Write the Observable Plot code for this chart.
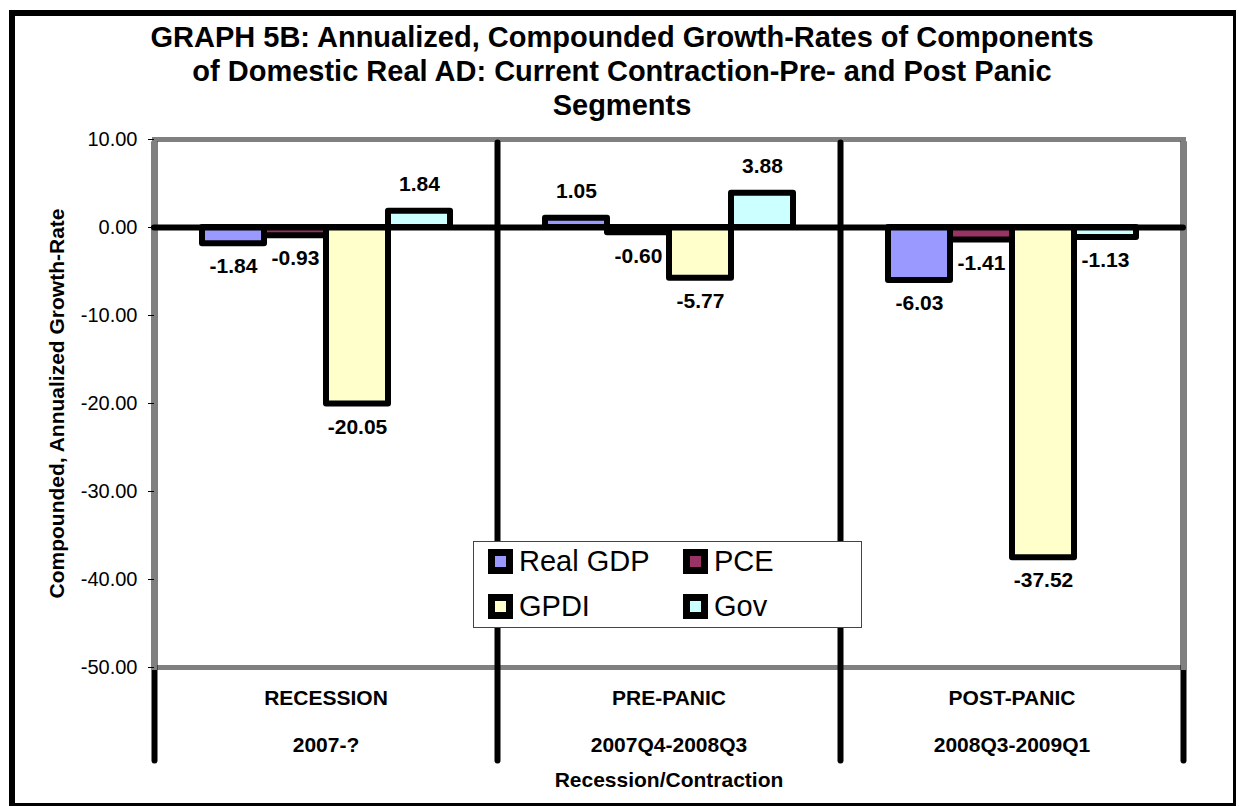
<!DOCTYPE html>
<html>
<head>
<meta charset="utf-8">
<script src="https://cdn.jsdelivr.net/npm/d3@7"></script>
<script src="https://cdn.jsdelivr.net/npm/@observablehq/plot@0.6"></script>
<style>
  html, body { margin: 0; padding: 0; background: #fff; }
  #chart { position: relative; width: 1239px; height: 806px; overflow: hidden;
           font-family: Arial, "Liberation Sans", sans-serif; background: #fff; }
  #chart svg { position: absolute; left: 0; top: 0; }
  #border { position: absolute; left: 9px; top: 10px; width: 1227px; height: 796px;
            box-sizing: border-box; border-style: solid; border-color: #000;
            border-width: 6px 3px 3px 6px; pointer-events: none; }
  #title { position: absolute; left: 0; top: 20px; width: 1244px; text-align: center;
           font-weight: bold; font-size: 29px; line-height: 34px; color: #000; }
  #legend { position: absolute; left: 473px; top: 541px; width: 389px; height: 87px;
            box-sizing: border-box; border: 1.5px solid #444; background: #fff; }
  .item { position: absolute; height: 26px; display: flex; align-items: center; gap: 6px;
          font-size: 29px; line-height: 26px; color: #000; white-space: nowrap; }
  .swatch { width: 25px; height: 25px; box-sizing: border-box; border: 7px solid #000; }
</style>
</head>
<body>
<div id="chart">
  <div id="title">GRAPH 5B: Annualized, Compounded Growth-Rates of Components<br>of Domestic Real AD: Current Contraction-Pre- and Post Panic<br>Segments</div>
</div>
<script>
// Contraction segments and their date spans
const categories = ["RECESSION", "PRE-PANIC", "POST-PANIC"];
const periods = ["2007-?", "2007Q4-2008Q3", "2008Q3-2009Q1"];

// Components of domestic real aggregate demand
const series = ["Real GDP", "PCE", "GPDI", "Gov"];
const colors = ["#9999FF", "#993366", "#FFFFCC", "#CCFFFF"];

// Compounded, annualized growth rates (%), one value per segment
const realGDP = [-1.84, 1.05, -6.03];
const pce = [-0.93, -0.60, -1.41];
const gpdi = [-20.05, -5.77, -37.52];
const gov = [1.84, 3.88, -1.13];

const yTicks = [10, 0, -10, -20, -30, -40, -50];

const seriesValues = [realGDP, pce, gpdi, gov];
const rows = categories.flatMap((c, i) =>
  series.map((s, j) => ({category: c, series: s, value: seriesValues[j][i]}))
);

const gray = "#808080";
const font = "Arial, 'Liberation Sans', sans-serif";

const plot = Plot.plot({
  width: 1239,
  height: 806,
  marginTop: 139,
  marginBottom: 139,
  marginLeft: 154,
  marginRight: 56,
  style: {fontFamily: font, background: "transparent", color: "#000", overflow: "visible"},
  fx: {domain: categories, padding: 0},
  x: {domain: series, paddingInner: 0, paddingOuter: 0.75, axis: null},
  y: {domain: [-50, 10]},
  color: {domain: series, range: colors},
  marks: [
    // plot-area border, top and bottom
    Plot.frame({anchor: "top", stroke: gray, strokeWidth: 5, strokeLinecap: "square"}),
    Plot.frame({anchor: "bottom", stroke: gray, strokeWidth: 5, strokeLinecap: "square"}),
    // segment separators, running down into the category labels
    Plot.frame({anchor: "left", stroke: "#000", strokeWidth: 6, strokeLinecap: "round", insetTop: 3, insetBottom: -93}),
    Plot.frame({anchor: "right", fx: "POST-PANIC", stroke: "#000", strokeWidth: 6, strokeLinecap: "round", insetTop: 3, insetBottom: -93}),
    // plot-area border, outer sides
    Plot.frame({anchor: "left", fx: "RECESSION", stroke: gray, strokeWidth: 5, strokeLinecap: "square"}),
    Plot.frame({anchor: "right", fx: "POST-PANIC", stroke: gray, strokeWidth: 5, strokeLinecap: "square"}),
    // bars
    Plot.barY(rows, {
      fx: "category", x: "series", y: "value", fill: "series",
      stroke: "#000", strokeWidth: 6, strokeLinejoin: "round"
    }),
    // zero line
    Plot.ruleY([0], {stroke: "#000", strokeWidth: 6, strokeLinecap: "round"}),
    // value labels
    Plot.text(rows.filter(d => d.value >= 0), {
      fx: "category", x: "series", y: "value", text: d => d.value.toFixed(2),
      dy: -27, fontSize: 21, fontWeight: "bold", fill: "#000"
    }),
    Plot.text(rows.filter(d => d.value < 0), {
      fx: "category", x: "series", y: "value", text: d => d.value.toFixed(2),
      dy: 23, fontSize: 21, fontWeight: "bold", fill: "#000"
    }),
    // axes
    Plot.axisY({
      ticks: yTicks, tickFormat: d => d.toFixed(2), tickSize: 6, tickPadding: 11,
      fontSize: 20, label: null
    }),
    Plot.axisFx({
      anchor: "bottom", tickSize: 0, tickPadding: 4, fontSize: 21, fontWeight: "bold",
      lineHeight: 2.24, label: null,
      tickFormat: c => c + "\n" + periods[categories.indexOf(c)]
    }),
    Plot.text(["Compounded, Annualized Growth-Rate"], {
      fx: () => categories[0], frameAnchor: "left", dx: -97, rotate: -90,
      textAnchor: "middle", lineAnchor: "middle", fontSize: 21, fontWeight: "bold", fill: "#000"
    }),
    Plot.text(["Recession/Contraction"], {
      fx: () => categories[1], frameAnchor: "bottom", dy: 113,
      textAnchor: "middle", lineAnchor: "middle", fontSize: 21, fontWeight: "bold", fill: "#000"
    })
  ]
});

const chart = document.getElementById("chart");
chart.insertBefore(plot, chart.firstChild);

// legend box
const legend = document.createElement("div");
legend.id = "legend";
const legendPos = [[14, 6], [209, 6], [14, 51], [209, 51]];
series.forEach((s, i) => {
  const item = document.createElement("div");
  item.className = "item";
  item.style.left = legendPos[i][0] + "px";
  item.style.top = legendPos[i][1] + "px";
  const sw = document.createElement("span");
  sw.className = "swatch";
  sw.style.background = colors[i];
  const label = document.createElement("span");
  label.textContent = s;
  item.append(sw, label);
  legend.append(item);
});
chart.append(legend);

const border = document.createElement("div");
border.id = "border";
chart.append(border);
</script>
</body>
</html>
